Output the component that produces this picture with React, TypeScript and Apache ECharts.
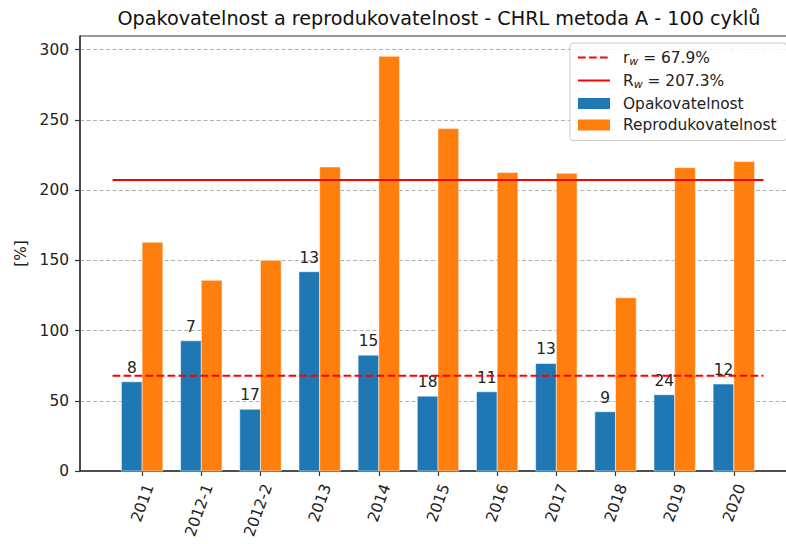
import React, { useEffect, useRef } from "react";
import * as echarts from "echarts";

const categories = ["2011", "2012-1", "2012-2", "2013", "2014", "2015", "2016", "2017", "2018", "2019", "2020"];
const repeatability = [63.5, 92.7, 44, 141.9, 82.5, 53.3, 56.4, 76.6, 42.2, 54.3, 61.9];
const reproducibility = [162.8, 135.8, 150, 216.5, 295.3, 243.8, 212.5, 212, 123.4, 216, 220.3];
const labCounts = [8, 7, 17, 13, 15, 18, 11, 13, 9, 24, 12];
const rwValue = 67.9;
const RwValue = 207.3;
const lineSpan = [-0.5, 10.5];
const yTicks = [0, 50, 100, 150, 200, 250, 300];

const FONT = "DejaVu Sans";
const TXT = "#222";
const FS = 15.4;
const BAR_W = 0.35; // bar width as a fraction of category spacing

export default function App() {
  const ref = useRef<HTMLDivElement>(null);
  useEffect(() => {
    if (!ref.current) return;
    const chart = echarts.init(ref.current, null, { renderer: "svg" });
    const idx = categories.map((_, i) => i);
    const rich = {
      n: { fontSize: FS, fontFamily: FONT, color: TXT, lineHeight: 18 },
      s: { fontSize: 11, fontFamily: FONT, color: TXT, lineHeight: 9, verticalAlign: "bottom", fontStyle: "italic" },
    };
    const legendNames: Record<string, string> = {
      rw: `{n|r}{s|w}{n| = ${rwValue}%}`,
      Rw: `{n|R}{s|w}{n| = ${RwValue}%}`,
      Opakovatelnost: "{n|Opakovatelnost}",
      Reprodukovatelnost: "{n|Reprodukovatelnost}",
    };
    const makeBar = (side: -1 | 1, color: string, withLabel: boolean) => (params: any, api: any) => {
      const x = api.value(0);
      const y = api.value(1);
      const base = api.coord([x, 0]);
      const top = api.coord([x, y]);
      const w = api.size([BAR_W, 0])[0];
      const left = side < 0 ? base[0] - w : base[0];
      const children: any[] = [
        {
          type: "rect",
          shape: { x: left, y: top[1], width: w, height: base[1] - top[1] },
          style: { fill: color, stroke: "rgba(255,255,255,0.5)", lineWidth: 1 },
        },
      ];
      if (withLabel) {
        children.push({
          type: "text",
          x: left + w / 2,
          y: top[1] - 6.5,
          style: {
            text: String(labCounts[params.dataIndex]),
            textAlign: "center",
            textVerticalAlign: "bottom",
            fontSize: FS,
            fontFamily: FONT,
            fill: TXT,
          },
        });
      }
      return { type: "group", children };
    };
    chart.setOption({
      animation: false,
      backgroundColor: "#fff",
      textStyle: { fontFamily: FONT },
      title: {
        text: "Opakovatelnost a reprodukovatelnost - CHRL metoda A - 100 cyklů",
        left: 434,
        textAlign: "center",
        top: 4,
        textStyle: { fontFamily: FONT, fontSize: 19.2, fontWeight: "normal", color: "#111" },
      },
      grid: {
        left: 80,
        top: 36,
        width: 716,
        height: 435,
        outerBoundsMode: "none",
        containLabel: false,
        show: true,
        borderColor: "#333",
        borderWidth: 1,
        backgroundColor: "transparent",
      },
      legend: {
        orient: "vertical",
        left: 570,
        top: 43,
        padding: [7, 10, 8, 7],
        itemGap: 6.5,
        itemWidth: 32,
        itemHeight: 11,
        selectedMode: false,
        backgroundColor: "rgba(255,255,255,0.85)",
        borderColor: "#cccccc",
        borderWidth: 1,
        borderRadius: 3,
        formatter: (name: string) => legendNames[name] || name,
        textStyle: { fontFamily: FONT, fontSize: FS, color: TXT, padding: [0, 0, 0, 8], rich },
        data: [
          { name: "rw", itemStyle: { color: "rgba(0,0,0,0)", borderColor: "rgba(0,0,0,0)", opacity: 0 } },
          { name: "Rw", itemStyle: { color: "rgba(0,0,0,0)", borderColor: "rgba(0,0,0,0)", opacity: 0 } },
          { name: "Opakovatelnost", icon: "rect", itemStyle: { color: "#1f77b4", borderWidth: 0 } },
          { name: "Reprodukovatelnost", icon: "rect", itemStyle: { color: "#ff7f0e", borderWidth: 0 } },
        ],
      },
      xAxis: {
        type: "value",
        min: -1.05,
        max: 11.05,
        splitLine: { show: false },
        axisLine: { show: true, onZero: false, lineStyle: { color: "#333", width: 1.5 } },
        axisTick: { show: true, length: 5, customValues: idx, lineStyle: { color: "#333", width: 1.2 } },
        axisLabel: {
          customValues: idx,
          formatter: (v: number) => categories[Math.round(v)] ?? "",
          rotate: 70,
          align: "right",
          verticalAlign: "top",
          margin: 11,
          fontSize: FS,
          fontFamily: FONT,
          color: TXT,
        },
      },
      yAxis: {
        type: "value",
        min: 0,
        max: 309.75,
        interval: 50,
        name: "[%]",
        nameLocation: "middle",
        nameRotate: 90,
        nameGap: 46,
        nameTextStyle: { fontFamily: FONT, fontSize: FS, color: TXT },
        axisLine: { show: true, onZero: false, lineStyle: { color: "#333", width: 1.5 } },
        axisTick: { show: true, length: 5, customValues: yTicks, lineStyle: { color: "#333", width: 1.2 } },
        axisLabel: { customValues: yTicks, margin: 11, fontSize: FS, fontFamily: FONT, color: TXT },
        splitLine: { show: true, lineStyle: { color: "#b0b0b0", type: [4, 2.5], width: 1 } },
      },
      series: [
        {
          name: "Opakovatelnost",
          type: "custom",
          data: repeatability.map((v, i) => [i, v]),
          encode: { x: 0, y: 1 },
          itemStyle: { color: "#1f77b4" },
          renderItem: makeBar(-1, "#1f77b4", true),
          z: 2,
        },
        {
          name: "Reprodukovatelnost",
          type: "custom",
          data: reproducibility.map((v, i) => [i, v]),
          encode: { x: 0, y: 1 },
          itemStyle: { color: "#ff7f0e" },
          renderItem: makeBar(1, "#ff7f0e", false),
          z: 2,
        },
        {
          name: "rw",
          type: "line",
          data: lineSpan.map((x) => [x, rwValue]),
          symbol: "none",
          lineStyle: { color: "#ff0000", width: 2, type: [7.7, 3.3] },
          z: 3,
        },
        {
          name: "Rw",
          type: "line",
          data: lineSpan.map((x) => [x, RwValue]),
          symbol: "none",
          lineStyle: { color: "#ff0000", width: 2 },
          z: 3,
        },
      ],
    });
    return () => chart.dispose();
  }, []);
  return <div ref={ref} style={{ width: 786, height: 544, position: "absolute", left: 0, top: 0 }} />;
}
